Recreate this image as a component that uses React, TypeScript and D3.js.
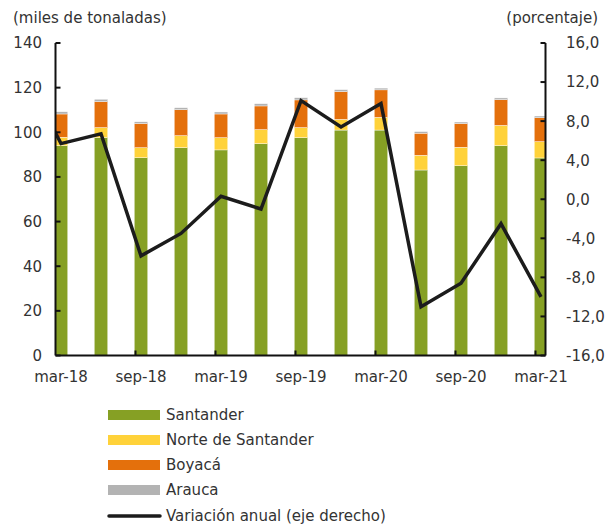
import React from 'react';
import * as d3 from 'd3';

// quarterly periods, mar-18 .. mar-21
const periods = ['mar-18', 'jun-18', 'sep-18', 'dic-18', 'mar-19', 'jun-19', 'sep-19', 'dic-19', 'mar-20', 'jun-20', 'sep-20', 'dic-20', 'mar-21'];
const santander = [94.0, 97.6, 88.6, 93.1, 92.1, 94.9, 97.6, 101.0, 101.0, 83.1, 85.0, 94.0, 88.5];
const norte = [3.8, 4.5, 4.5, 5.4, 5.5, 6.3, 4.5, 4.8, 5.7, 6.6, 8.3, 9.1, 7.3];
const boyaca = [10.4, 11.6, 10.8, 11.6, 10.6, 10.6, 12.4, 12.4, 12.3, 9.9, 10.6, 11.5, 10.7];
const arauca = [1.0, 1.1, 0.8, 0.9, 0.9, 1.0, 1.0, 0.9, 0.8, 0.7, 0.7, 0.8, 0.8];
// annual variation (%), first value is dic-17 (runs off the left of the plot)
const variacion = [13.6, 5.7, 6.7, -5.8, -3.5, 0.3, -1.0, 10.1, 7.4, 9.8, -11.0, -8.6, -2.5, -10.0];

const leftTicks = [0, 20, 40, 60, 80, 100, 120, 140];
const rightTicks = [-16, -12, -8, -4, 0, 4, 8, 12, 16];
const xLabels = ['mar-18', 'sep-18', 'mar-19', 'sep-19', 'mar-20', 'sep-20', 'mar-21'];

const keys = ['santander', 'norte', 'boyaca', 'arauca'];
const names = ['Santander', 'Norte de Santander', 'Boyacá', 'Arauca'];
const colors = ['#86a024', '#ffd23a', '#e4700c', '#b3b3b3'];

const W = 609;
const H = 527;
const left = 55.5;
const right = 545.5;
const top = 43;
const bottom = 355.5;
const font = '"DejaVu Sans", sans-serif';
const txt = '#333333';

const App: React.FC = () => {
  const x = d3.scaleLinear().domain([0, periods.length - 1]).range([61, 541]);
  const yL = d3.scaleLinear().domain([0, 140]).range([bottom, top]);
  const yR = d3.scaleLinear().domain([-16, 16]).range([bottom, top]);

  const rows = periods.map((p, i) => ({
    p,
    santander: santander[i],
    norte: norte[i],
    boyaca: boyaca[i],
    arauca: arauca[i],
  }));
  const series = d3.stack<any>().keys(keys)(rows);
  const barW = 13.5;

  const line = d3
    .line<number>()
    .x((_, i) => x(i - 1))
    .y((d) => yR(d));

  const fmt = (v: number) => v.toFixed(1).replace('.', ',');

  return (
    <svg width={W} height={H} style={{ position: 'absolute', left: 0, top: 0 }} fontFamily={font}>
      <defs>
        <clipPath id="plot">
          <rect x={left} y={0} width={right - left} height={bottom} />
        </clipPath>
      </defs>
      <rect width={W} height={H} fill="#fff" />

      <g clipPath="url(#plot)">
        {series.map((s, k) => (
          <g key={keys[k]} fill={colors[k]}>
            {s.map((d, i) => (
              <rect
                key={i}
                x={x(i) - barW / 2}
                y={yL(d[1])}
                width={barW}
                height={yL(d[0]) - yL(d[1])}
                stroke="#fff"
                strokeWidth={0.4}
              />
            ))}
          </g>
        ))}
        <path d={line(variacion) || ''} fill="none" stroke="#1c1c1c" strokeWidth={3.5} strokeLinejoin="miter" />
      </g>

      {/* axes */}
      <g stroke="#111" strokeWidth={2} fill="none">
        <line x1={left} x2={left} y1={top} y2={bottom} />
        <line x1={right} x2={right} y1={top} y2={bottom} />
        <line x1={left} x2={right} y1={bottom} y2={bottom} />
        {leftTicks.map((t) => (
          <line key={'l' + t} x1={left} x2={left + 5} y1={yL(t)} y2={yL(t)} />
        ))}
        {rightTicks.map((t) => (
          <line key={'r' + t} x1={right - 5} x2={right} y1={yR(t)} y2={yR(t)} />
        ))}
        {xLabels.slice(1).map((_, j) => (
          <line key={'b' + j} x1={x((j + 1) * 2) - 5.5} x2={x((j + 1) * 2) - 5.5} y1={bottom - 5} y2={bottom} />
        ))}
      </g>

      <g fontSize={15} fill={txt}>
        {leftTicks.map((t) => (
          <text key={t} x={42} y={yL(t)} dy="0.36em" textAnchor="end">
            {t}
          </text>
        ))}
        {rightTicks.map((t) => (
          <text key={t} x={566} y={yR(t)} dy="0.36em" textAnchor="start">
            {fmt(t)}
          </text>
        ))}
        {xLabels.map((l, j) => (
          <text key={l} x={x(j * 2)} y={382} textAnchor="middle">
            {l}
          </text>
        ))}
        <text x={13} y={23}>(miles de tonaladas)</text>
        <text x={598} y={23} textAnchor="end">(porcentaje)</text>
      </g>

      {/* legend */}
      <g fontSize={15} fill={txt}>
        {names.map((n, k) => (
          <g key={n} transform={`translate(108, ${415 + k * 25})`}>
            <rect x={0} y={-5} width={52} height={10} fill={colors[k]} />
            <text x={58} y={0} dy="0.36em">
              {n}
            </text>
          </g>
        ))}
        <g transform="translate(108, 516)">
          <line x1={1} x2={52} y1={0} y2={0} stroke="#1c1c1c" strokeWidth={3.5} strokeLinecap="round" />
          <text x={58} y={0} dy="0.36em">
            Variación anual (eje derecho)
          </text>
        </g>
      </g>
    </svg>
  );
};

export default App;
